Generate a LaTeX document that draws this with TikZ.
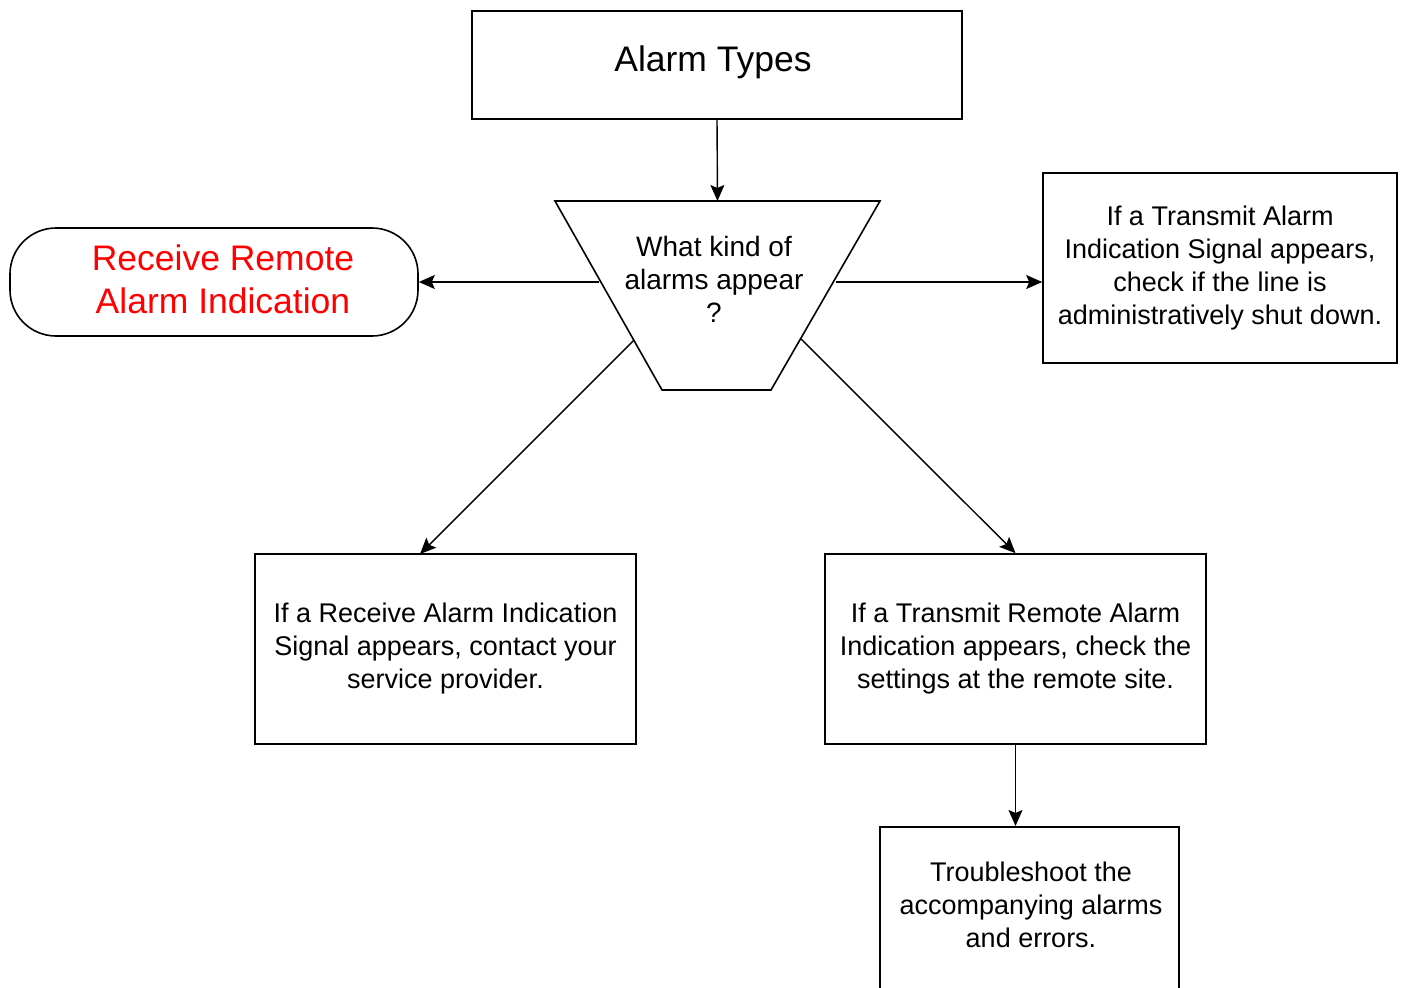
\documentclass[tikz,border=0pt]{standalone}
\usepackage{fontspec}
\setmainfont{Liberation Sans}
\usetikzlibrary{arrows.meta,calc}
\begin{document}
\begin{tikzpicture}[x=1pt,y=-1pt,
  box/.style={draw=black,line width=1.6pt,rectangle,inner sep=0pt,align=center},
  small/.style={font=\fontsize{27}{33}\selectfont},
  big/.style={font=\fontsize{35.5}{43}\selectfont},
  conn/.style={draw=black,line width=1.4pt,-{Stealth[length=16pt,width=14pt,inset=3pt]}}]
\useasboundingbox (0,0) rectangle (1404,987);
\clip (0,0) rectangle (1404,987);
\fill[white] (0,0) rectangle (1404,987);
% Alarm Types
\node[box,minimum width=490,minimum height=108] (at) at (717,65) {};
\node[big] (att) at (713,62) {Alarm Types};
% trapezoid
\coordinate (tTL) at (555,201);
\coordinate (tTR) at (880,201);
\coordinate (tBR) at (771,390);
\coordinate (tBL) at (662,390);
\draw[line width=1.6pt,line join=miter] (tTL) -- (tTR) -- (tBR) -- (tBL) -- cycle;
\coordinate (tTop) at (717.5,201);
\node[align=center,font=\fontsize{28}{33}\selectfont] (q) at (714,279) {What kind of\\alarms appear\\?};
\coordinate (qL) at (599,282);
\coordinate (qR) at (836,282);
\coordinate (qLL) at (634,340);
\coordinate (qLR) at (801,339);
% stadium
\node[draw=black,line width=1.6pt,rounded corners=46pt,minimum width=408,minimum height=108,
  inner sep=0pt] (rr) at (214,282) {};
\node[align=center,text=red,big] (rrt) at (223,279) {Receive Remote\\Alarm Indication};
% right box
\node[box,small,minimum width=354,minimum height=190] (tai) at (1220,268)
  {If a Transmit Alarm\\Indication Signal appears,\\check if the line is\\administratively shut down.};
% lower left
\node[box,small,minimum width=381,minimum height=190] (rai) at (445.5,649)
  {If a Receive Alarm Indication\\Signal appears, contact your\\service provider.};
\coordinate (raiIn) at (420,554);
% lower right
\node[box,small,minimum width=381,minimum height=190] (tra) at (1015.5,649)
  {If a Transmit Remote Alarm\\Indication appears, check the\\settings at the remote site.};
% bottom box
\node[box,minimum width=299,minimum height=200,anchor=north] (ts) at (1029.5,826) {};
\node[small,align=center] (tst) at (1031,905) {Troubleshoot the\\accompanying alarms\\and errors.};
% connectors
\draw[conn] (at.south) -- (tTop);
\draw[conn] (qL) -- (rr.east |- qL);
\draw[conn] (qR) -- (tai.west |- qR);
\draw[conn] (qLL) -- (raiIn);
\draw[conn] (qLR) -- (tra.north);
\draw[conn] (tra.south) -- (tra.south |- ts.north);
\end{tikzpicture}
\end{document}
